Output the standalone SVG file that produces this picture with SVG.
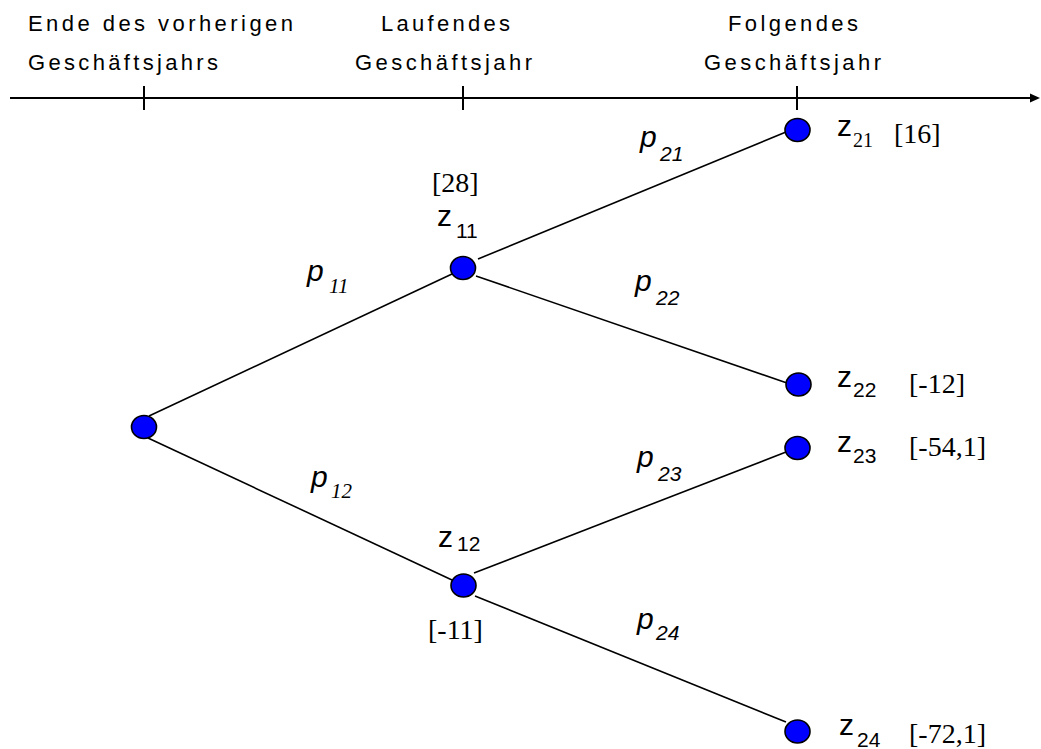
<svg xmlns="http://www.w3.org/2000/svg" width="1041" height="749" viewBox="0 0 1041 749">
<style>
.hdr{font-family:"Liberation Sans",Arial,sans-serif;font-size:22px;fill:#000}
.z{font-family:"Liberation Sans",Arial,sans-serif;font-size:30px;fill:#000}
.zs{font-family:"Liberation Sans",Arial,sans-serif;font-size:21px;fill:#000}
.zst{font-family:"Liberation Serif","Times New Roman",serif;font-size:20px;fill:#000}
.p{font-family:"Liberation Sans",Arial,sans-serif;font-size:30px;font-style:italic;fill:#000}
.ps{font-family:"Liberation Sans",Arial,sans-serif;font-size:21px;font-style:italic;fill:#000}
.pst{font-family:"Liberation Serif","Times New Roman",serif;font-size:21px;font-style:italic;fill:#000}
.v{font-family:"Liberation Serif","Times New Roman",serif;font-size:28px;fill:#000}
.edge{stroke:#000;stroke-width:1.6;fill:none}
.axis{stroke:#000;stroke-width:2;fill:none}
.node{fill:#0000FF;stroke:#000;stroke-width:1.6}
</style>
<rect width="1041" height="749" fill="#fff"/>
<g id="axis">
<line class="axis" x1="10" y1="98" x2="1033" y2="98"/>
<polygon points="1030,93.5 1040,98 1030,102.5" fill="#000"/>
<line class="axis" x1="144" y1="86" x2="144" y2="110"/>
<line class="axis" x1="463" y1="86" x2="463" y2="110"/>
<line class="axis" x1="797" y1="86" x2="797" y2="110"/>
<text class="hdr" x="28" y="31" textLength="265" lengthAdjust="spacing">Ende des vorherigen</text>
<text class="hdr" x="28" y="70" textLength="190" lengthAdjust="spacing">Geschäftsjahrs</text>
<text class="hdr" x="381" y="31" textLength="129" lengthAdjust="spacing">Laufendes</text>
<text class="hdr" x="355" y="70" textLength="177" lengthAdjust="spacing">Geschäftsjahr</text>
<text class="hdr" x="728" y="31" textLength="130" lengthAdjust="spacing">Folgendes</text>
<text class="hdr" x="704" y="70" textLength="177" lengthAdjust="spacing">Geschäftsjahr</text>
</g>
<g id="connectors">
<line class="edge" x1="149" y1="416" x2="452" y2="274"/>
<line class="edge" x1="148" y1="438" x2="452" y2="580"/>
<line class="edge" x1="478" y1="259" x2="786" y2="132"/>
<line class="edge" x1="476" y1="276" x2="787" y2="383"/>
<line class="edge" x1="474" y1="573" x2="786" y2="452"/>
<line class="edge" x1="475" y1="596" x2="786" y2="722"/>
</g>
<g id="edge-labels">
<text class="p" x="307" y="281">p<tspan class="pst" x="329" y="293">11</tspan></text>
<text class="p" x="311" y="487">p<tspan class="pst" x="331" y="498">12</tspan></text>
<text class="p" x="640" y="147">p<tspan class="ps" x="660" y="161">21</tspan></text>
<text class="p" x="635" y="291">p<tspan class="ps" x="656" y="305">22</tspan></text>
<text class="p" x="637" y="467">p<tspan class="ps" x="658" y="481">23</tspan></text>
<text class="p" x="637" y="629">p<tspan class="ps" x="656" y="640">24</tspan></text>
</g>
<g id="node-root">
<ellipse class="node" cx="144" cy="427" rx="12.5" ry="11.5"/>
</g>
<g id="node-z11">
<ellipse class="node" cx="463" cy="268" rx="12.5" ry="11.5"/>
<text class="v" x="432" y="192">[28]</text>
<text class="z" x="437" y="226">z<tspan class="zs" x="456" y="238">11</tspan></text>
</g>
<g id="node-z12">
<ellipse class="node" cx="463.5" cy="585.5" rx="12.5" ry="11.5"/>
<text class="z" x="438" y="547">z<tspan class="zs" x="457" y="551">12</tspan></text>
<text class="v" x="428" y="639">[-11]</text>
</g>
<g id="node-z21">
<ellipse class="node" cx="797.5" cy="130" rx="12.5" ry="11.5"/>
<text class="z" x="837" y="136">z<tspan class="zst" x="853" y="147">21</tspan></text>
<text class="v" x="894" y="143">[16]</text>
</g>
<g id="node-z22">
<ellipse class="node" cx="798.5" cy="384.5" rx="12.5" ry="11.5"/>
<text class="z" x="837" y="387">z<tspan class="zs" x="853" y="397">22</tspan></text>
<text class="v" x="909" y="393">[-12]</text>
</g>
<g id="node-z23">
<ellipse class="node" cx="797.5" cy="448" rx="12.5" ry="11.5"/>
<text class="z" x="837" y="452">z<tspan class="zs" x="853" y="463">23</tspan></text>
<text class="v" x="909" y="456">[-54,1]</text>
</g>
<g id="node-z24">
<ellipse class="node" cx="797.5" cy="731.5" rx="12.5" ry="11.5"/>
<text class="z" x="839" y="735">z<tspan class="zs" x="857" y="747">24</tspan></text>
<text class="v" x="909" y="743">[-72,1]</text>
</g>
</svg>
